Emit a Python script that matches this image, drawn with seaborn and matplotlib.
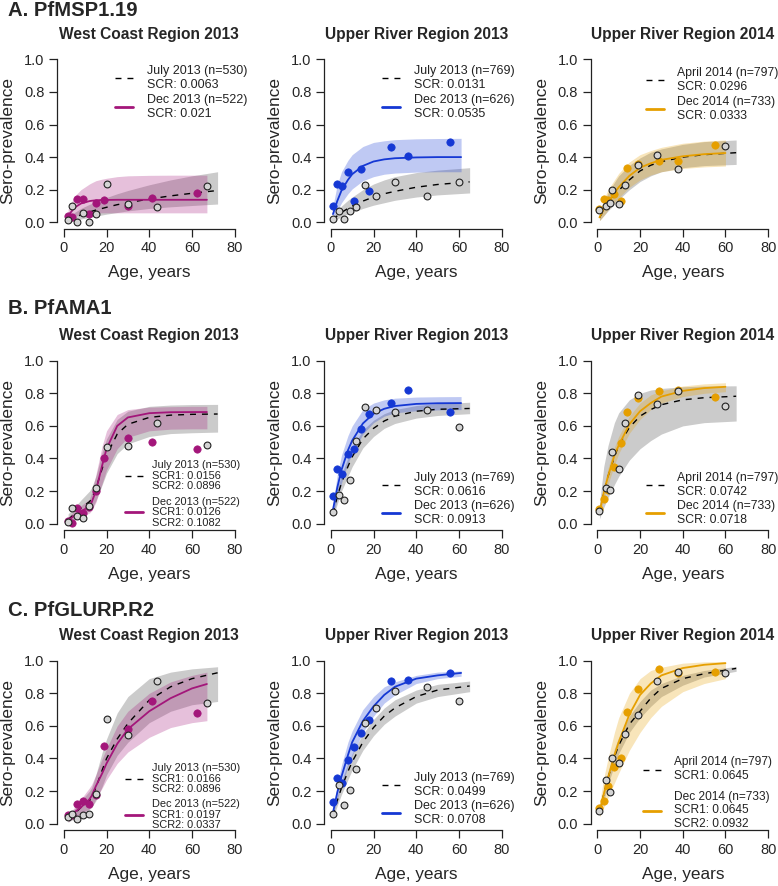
import matplotlib
matplotlib.use("Agg")
import matplotlib.pyplot as plt
from matplotlib.lines import Line2D
import seaborn as sns

# ---- ages of the observed points (one list per survey) ----
wc_jul_age = [2, 4, 6, 9, 12, 15, 20, 30, 43.5, 67]
wc_dec_age = [2, 4, 6, 9, 12, 15, 19, 30, 41.5, 62.5]
ur13_jul_age = [1, 4, 6, 9, 12, 16, 21, 30, 45, 60]
ur13_dec_age = [1, 3, 5, 8, 11, 14, 18, 28, 36, 56]
ur14_apr_age = [1, 4, 6, 7, 10, 13, 19, 28, 38, 60]
ur14_dec_age = [1, 3, 5, 8, 11, 14, 19, 29, 38, 55]

# ---- ages at which the fitted curves were read ----
wc_dec_fit_age = [2, 5, 8, 12, 13, 15, 18, 20, 25, 30, 40, 50, 60, 67]
wc_jul_fit_age = [2, 5, 8, 12, 13, 15, 18, 20, 25, 30, 40, 50, 60, 72]
ur13_dec_fit_age = [1, 3, 5, 8, 10, 15, 20, 25, 30, 40, 50, 61]
ur13_jul_fit_age = [1, 3, 5, 8, 10, 15, 20, 25, 30, 40, 50, 65]
ur14_dec_fit_age = [1, 3, 5, 8, 10, 15, 20, 25, 30, 40, 50, 60]
ur14_apr_fit_age = [1, 3, 5, 8, 10, 15, 20, 25, 30, 40, 50, 65]

# ---- A. PfMSP1.19 ----
msp_wc_jul = [0.015, 0.10, 0.0, 0.056, 0.0, 0.052, 0.237, 0.113, 0.093, 0.223]
msp_wc_dec = [0.041, 0.035, 0.144, 0.144, 0.052, 0.118, 0.134, 0.099, 0.150, 0.181]
msp_wc_jul_fit = [0.012, 0.03, 0.045, 0.063, 0.067, 0.075, 0.085, 0.092, 0.108, 0.12, 0.143, 0.162, 0.178, 0.195]
msp_wc_jul_lo = [0.0, 0.01, 0.02, 0.03, 0.033, 0.038, 0.045, 0.05, 0.06, 0.07, 0.085, 0.095, 0.103, 0.112]
msp_wc_jul_hi = [0.03, 0.06, 0.085, 0.11, 0.115, 0.128, 0.142, 0.152, 0.175, 0.195, 0.23, 0.26, 0.285, 0.31]
msp_wc_dec_fit = [0.04, 0.09, 0.115, 0.13, 0.132, 0.135, 0.137, 0.137, 0.138, 0.138, 0.138, 0.138, 0.138, 0.138]
msp_wc_dec_lo = [0.01, 0.035, 0.05, 0.056, 0.057, 0.058, 0.058, 0.058, 0.058, 0.058, 0.058, 0.058, 0.058, 0.058]
msp_wc_dec_hi = [0.08, 0.16, 0.2, 0.235, 0.242, 0.255, 0.265, 0.27, 0.28, 0.285, 0.288, 0.289, 0.289, 0.289]

msp_ur13_jul = [0.02, 0.068, 0.02, 0.072, 0.092, 0.226, 0.164, 0.25, 0.164, 0.246]
msp_ur13_dec = [0.099, 0.235, 0.22, 0.308, 0.133, 0.328, 0.19, 0.462, 0.407, 0.495]
msp_ur13_jul_fit = [0.015, 0.04, 0.06, 0.085, 0.1, 0.13, 0.155, 0.175, 0.19, 0.215, 0.232, 0.248]
msp_ur13_jul_lo = [0.005, 0.02, 0.035, 0.05, 0.06, 0.085, 0.105, 0.12, 0.135, 0.155, 0.168, 0.18]
msp_ur13_jul_hi = [0.03, 0.07, 0.1, 0.135, 0.155, 0.2, 0.235, 0.26, 0.28, 0.305, 0.32, 0.335]
msp_ur13_dec_fit = [0.05, 0.13, 0.195, 0.26, 0.295, 0.346, 0.373, 0.386, 0.393, 0.398, 0.4, 0.4]
msp_ur13_dec_lo = [0.02, 0.07, 0.12, 0.175, 0.205, 0.255, 0.28, 0.295, 0.302, 0.308, 0.31, 0.31]
msp_ur13_dec_hi = [0.1, 0.23, 0.31, 0.38, 0.415, 0.465, 0.49, 0.5, 0.507, 0.512, 0.514, 0.515]

msp_ur14_apr = [0.075, 0.099, 0.118, 0.2, 0.113, 0.227, 0.35, 0.412, 0.326, 0.47]
msp_ur14_dec = [0.082, 0.14, 0.138, 0.175, 0.13, 0.336, 0.355, 0.373, 0.373, 0.474]
msp_ur14_apr_fit = [0.028, 0.075, 0.115, 0.165, 0.195, 0.26, 0.315, 0.35, 0.372, 0.4, 0.415, 0.427]
msp_ur14_apr_lo = [0.01, 0.04, 0.07, 0.11, 0.14, 0.2, 0.25, 0.285, 0.31, 0.335, 0.348, 0.355]
msp_ur14_apr_hi = [0.05, 0.12, 0.18, 0.245, 0.285, 0.35, 0.395, 0.43, 0.45, 0.478, 0.495, 0.505]
msp_ur14_dec_fit = [0.03, 0.08, 0.125, 0.18, 0.215, 0.285, 0.335, 0.362, 0.383, 0.405, 0.418, 0.425]
msp_ur14_dec_lo = [0.01, 0.04, 0.075, 0.12, 0.15, 0.215, 0.26, 0.29, 0.31, 0.33, 0.34, 0.345]
msp_ur14_dec_hi = [0.06, 0.14, 0.2, 0.26, 0.3, 0.37, 0.415, 0.44, 0.46, 0.485, 0.498, 0.505]

# ---- B. PfAMA1 ----
ama_wc_jul = [0.01, 0.099, 0.047, 0.037, 0.11, 0.216, 0.473, 0.475, 0.617, 0.484]
ama_wc_dec = [0.016, 0.002, 0.099, 0.064, 0.103, 0.2, 0.40, 0.525, 0.504, 0.459]
ama_wc_jul_fit = [0.025, 0.06, 0.095, 0.135, 0.15, 0.215, 0.34, 0.42, 0.55, 0.61, 0.652, 0.666, 0.671, 0.673]
ama_wc_jul_lo = [0.0, 0.025, 0.05, 0.08, 0.09, 0.14, 0.24, 0.31, 0.43, 0.49, 0.535, 0.553, 0.558, 0.562]
ama_wc_jul_hi = [0.06, 0.1, 0.145, 0.2, 0.22, 0.29, 0.44, 0.52, 0.64, 0.69, 0.72, 0.728, 0.731, 0.732]
ama_wc_dec_fit = [0.02, 0.05, 0.075, 0.105, 0.13, 0.2, 0.36, 0.46, 0.6, 0.652, 0.678, 0.684, 0.685, 0.685]
ama_wc_dec_lo = [0.0, 0.02, 0.04, 0.065, 0.08, 0.13, 0.25, 0.33, 0.46, 0.53, 0.57, 0.58, 0.582, 0.582]
ama_wc_dec_hi = [0.04, 0.08, 0.11, 0.15, 0.19, 0.3, 0.48, 0.57, 0.67, 0.7, 0.715, 0.718, 0.72, 0.72]

ama_ur13_jul = [0.072, 0.179, 0.148, 0.267, 0.507, 0.713, 0.698, 0.688, 0.698, 0.595]
ama_ur13_dec = [0.172, 0.337, 0.302, 0.425, 0.46, 0.579, 0.676, 0.743, 0.819, 0.686]
ama_ur13_jul_fit = [0.06, 0.165, 0.25, 0.35, 0.41, 0.52, 0.585, 0.63, 0.66, 0.69, 0.702, 0.707]
ama_ur13_jul_lo = [0.04, 0.12, 0.2, 0.29, 0.35, 0.465, 0.535, 0.585, 0.615, 0.648, 0.664, 0.675]
ama_ur13_jul_hi = [0.085, 0.21, 0.3, 0.405, 0.465, 0.575, 0.635, 0.675, 0.7, 0.725, 0.737, 0.745]
ama_ur13_dec_fit = [0.085, 0.22, 0.33, 0.45, 0.51, 0.615, 0.675, 0.705, 0.722, 0.735, 0.739, 0.74]
ama_ur13_dec_lo = [0.05, 0.15, 0.25, 0.37, 0.43, 0.55, 0.62, 0.66, 0.68, 0.693, 0.698, 0.7]
ama_ur13_dec_hi = [0.12, 0.3, 0.42, 0.54, 0.6, 0.7, 0.74, 0.76, 0.77, 0.777, 0.779, 0.78]

ama_ur14_apr = [0.075, 0.22, 0.205, 0.44, 0.337, 0.62, 0.79, 0.733, 0.815, 0.723]
ama_ur14_dec = [0.092, 0.154, 0.209, 0.349, 0.497, 0.688, 0.774, 0.815, 0.821, 0.778]
ama_ur14_apr_fit = [0.07, 0.19, 0.29, 0.41, 0.48, 0.59, 0.66, 0.7, 0.73, 0.76, 0.773, 0.782]
ama_ur14_apr_lo = [0.03, 0.1, 0.16, 0.24, 0.29, 0.39, 0.46, 0.51, 0.55, 0.6, 0.62, 0.63]
ama_ur14_apr_hi = [0.12, 0.35, 0.48, 0.62, 0.68, 0.76, 0.8, 0.82, 0.83, 0.84, 0.845, 0.846]
ama_ur14_dec_fit = [0.07, 0.19, 0.29, 0.42, 0.48, 0.61, 0.69, 0.74, 0.78, 0.815, 0.832, 0.84]
ama_ur14_dec_lo = [0.05, 0.15, 0.24, 0.36, 0.43, 0.555, 0.64, 0.7, 0.74, 0.78, 0.8, 0.81]
ama_ur14_dec_hi = [0.09, 0.23, 0.34, 0.47, 0.535, 0.66, 0.74, 0.79, 0.815, 0.845, 0.858, 0.865]

# ---- C. PfGLURP.R2 ----
glurp_wc_jul = [0.04, 0.06, 0.031, 0.055, 0.057, 0.184, 0.641, 0.547, 0.875, 0.742]
glurp_wc_dec = [0.055, 0.055, 0.123, 0.139, 0.123, 0.174, 0.475, 0.584, 0.752, 0.682]
glurp_wc_jul_fit = [0.03, 0.06, 0.1, 0.14, 0.16, 0.22, 0.33, 0.4, 0.52, 0.615, 0.758, 0.84, 0.89, 0.926]
glurp_wc_jul_lo = [0.01, 0.03, 0.06, 0.09, 0.1, 0.14, 0.23, 0.3, 0.42, 0.5, 0.62, 0.69, 0.73, 0.75]
glurp_wc_jul_hi = [0.05, 0.09, 0.14, 0.2, 0.22, 0.3, 0.44, 0.52, 0.68, 0.78, 0.89, 0.93, 0.95, 0.963]
glurp_wc_dec_fit = [0.03, 0.07, 0.1, 0.15, 0.17, 0.23, 0.31, 0.37, 0.49, 0.58, 0.69, 0.77, 0.83, 0.857]
glurp_wc_dec_lo = [0.01, 0.04, 0.06, 0.09, 0.1, 0.15, 0.22, 0.27, 0.37, 0.44, 0.53, 0.59, 0.62, 0.632]
glurp_wc_dec_hi = [0.05, 0.1, 0.15, 0.22, 0.24, 0.3, 0.4, 0.46, 0.6, 0.69, 0.8, 0.87, 0.91, 0.93]

glurp_ur13_jul = [0.057, 0.236, 0.113, 0.205, 0.338, 0.619, 0.707, 0.816, 0.836, 0.754]
glurp_ur13_dec = [0.133, 0.283, 0.25, 0.389, 0.471, 0.559, 0.635, 0.877, 0.883, 0.922]
glurp_ur13_jul_fit = [0.049, 0.14, 0.22, 0.32, 0.38, 0.5, 0.59, 0.66, 0.71, 0.78, 0.82, 0.845]
glurp_ur13_jul_lo = [0.035, 0.11, 0.18, 0.27, 0.33, 0.45, 0.54, 0.61, 0.66, 0.74, 0.78, 0.81]
glurp_ur13_jul_hi = [0.065, 0.17, 0.26, 0.37, 0.43, 0.55, 0.64, 0.71, 0.76, 0.82, 0.855, 0.875]
glurp_ur13_dec_fit = [0.068, 0.19, 0.29, 0.42, 0.5, 0.63, 0.72, 0.79, 0.84, 0.89, 0.91, 0.925]
glurp_ur13_dec_lo = [0.05, 0.15, 0.23, 0.35, 0.42, 0.56, 0.66, 0.74, 0.79, 0.86, 0.89, 0.905]
glurp_ur13_dec_hi = [0.09, 0.24, 0.36, 0.5, 0.57, 0.7, 0.78, 0.84, 0.87, 0.91, 0.93, 0.937]

glurp_ur14_apr = [0.078, 0.266, 0.195, 0.404, 0.373, 0.549, 0.666, 0.875, 0.932, 0.926]
glurp_ur14_dec = [0.096, 0.139, 0.232, 0.348, 0.4, 0.686, 0.824, 0.949, 0.922, 0.932]
glurp_ur14_apr_fit = [0.07, 0.18, 0.28, 0.41, 0.48, 0.61, 0.69, 0.77, 0.83, 0.89, 0.92, 0.953]
glurp_ur14_apr_lo = [0.05, 0.14, 0.24, 0.36, 0.43, 0.56, 0.65, 0.72, 0.78, 0.85, 0.9, 0.935]
glurp_ur14_apr_hi = [0.09, 0.22, 0.32, 0.46, 0.53, 0.66, 0.75, 0.82, 0.86, 0.91, 0.94, 0.965]
glurp_ur14_dec_fit = [0.07, 0.18, 0.28, 0.42, 0.5, 0.67, 0.79, 0.86, 0.91, 0.955, 0.975, 0.985]
glurp_ur14_dec_lo = [0.04, 0.1, 0.16, 0.25, 0.31, 0.45, 0.56, 0.65, 0.72, 0.81, 0.86, 0.89]
glurp_ur14_dec_hi = [0.12, 0.28, 0.4, 0.56, 0.65, 0.8, 0.89, 0.94, 0.96, 0.985, 0.993, 0.995]

# ---- text ----
antigens = ["A. PfMSP1.19", "B. PfAMA1", "C. PfGLURP.R2"]
regions = ["West Coast Region 2013", "Upper River Region 2013", "Upper River Region 2014"]
legend_labels = [
    ["July 2013 (n=530)\nSCR: 0.0063", "Dec 2013 (n=522)\nSCR: 0.021"],
    ["July 2013 (n=769)\nSCR: 0.0131", "Dec 2013 (n=626)\nSCR: 0.0535"],
    ["April 2014 (n=797)\nSCR: 0.0296", "Dec 2014 (n=733)\nSCR: 0.0333"],
    ["July 2013 (n=530)\nSCR1: 0.0156\nSCR2: 0.0896", "Dec 2013 (n=522)\nSCR1: 0.0126\nSCR2: 0.1082"],
    ["July 2013 (n=769)\nSCR: 0.0616", "Dec 2013 (n=626)\nSCR: 0.0913"],
    ["April 2014 (n=797)\nSCR: 0.0742", "Dec 2014 (n=733)\nSCR: 0.0718"],
    ["July 2013 (n=530)\nSCR1: 0.0166\nSCR2: 0.0896", "Dec 2013 (n=522)\nSCR1: 0.0197\nSCR2: 0.0337"],
    ["July 2013 (n=769)\nSCR: 0.0499", "Dec 2013 (n=626)\nSCR: 0.0708"],
    ["April 2014 (n=797)\nSCR1: 0.0645", "Dec 2014 (n=733)\nSCR1: 0.0645\nSCR2: 0.0932"],
]

region_colors = ["#a3167a", "#1538d4", "#e69f00"]

panels = [
    (wc_jul_age, msp_wc_jul, wc_dec_age, msp_wc_dec, wc_jul_fit_age, msp_wc_jul_fit, msp_wc_jul_lo, msp_wc_jul_hi,
     wc_dec_fit_age, msp_wc_dec_fit, msp_wc_dec_lo, msp_wc_dec_hi),
    (ur13_jul_age, msp_ur13_jul, ur13_dec_age, msp_ur13_dec, ur13_jul_fit_age, msp_ur13_jul_fit, msp_ur13_jul_lo, msp_ur13_jul_hi,
     ur13_dec_fit_age, msp_ur13_dec_fit, msp_ur13_dec_lo, msp_ur13_dec_hi),
    (ur14_apr_age, msp_ur14_apr, ur14_dec_age, msp_ur14_dec, ur14_apr_fit_age, msp_ur14_apr_fit, msp_ur14_apr_lo, msp_ur14_apr_hi,
     ur14_dec_fit_age, msp_ur14_dec_fit, msp_ur14_dec_lo, msp_ur14_dec_hi),
    (wc_jul_age, ama_wc_jul, wc_dec_age, ama_wc_dec, wc_jul_fit_age, ama_wc_jul_fit, ama_wc_jul_lo, ama_wc_jul_hi,
     wc_dec_fit_age, ama_wc_dec_fit, ama_wc_dec_lo, ama_wc_dec_hi),
    (ur13_jul_age, ama_ur13_jul, ur13_dec_age, ama_ur13_dec, ur13_jul_fit_age, ama_ur13_jul_fit, ama_ur13_jul_lo, ama_ur13_jul_hi,
     ur13_dec_fit_age, ama_ur13_dec_fit, ama_ur13_dec_lo, ama_ur13_dec_hi),
    (ur14_apr_age, ama_ur14_apr, ur14_dec_age, ama_ur14_dec, ur14_apr_fit_age, ama_ur14_apr_fit, ama_ur14_apr_lo, ama_ur14_apr_hi,
     ur14_dec_fit_age, ama_ur14_dec_fit, ama_ur14_dec_lo, ama_ur14_dec_hi),
    (wc_jul_age, glurp_wc_jul, wc_dec_age, glurp_wc_dec, wc_jul_fit_age, glurp_wc_jul_fit, glurp_wc_jul_lo, glurp_wc_jul_hi,
     wc_dec_fit_age, glurp_wc_dec_fit, glurp_wc_dec_lo, glurp_wc_dec_hi),
    (ur13_jul_age, glurp_ur13_jul, ur13_dec_age, glurp_ur13_dec, ur13_jul_fit_age, glurp_ur13_jul_fit, glurp_ur13_jul_lo, glurp_ur13_jul_hi,
     ur13_dec_fit_age, glurp_ur13_dec_fit, glurp_ur13_dec_lo, glurp_ur13_dec_hi),
    (ur14_apr_age, glurp_ur14_apr, ur14_dec_age, glurp_ur14_dec, ur14_apr_fit_age, glurp_ur14_apr_fit, glurp_ur14_apr_lo, glurp_ur14_apr_hi,
     ur14_dec_fit_age, glurp_ur14_dec_fit, glurp_ur14_dec_lo, glurp_ur14_dec_hi),
]

# legend placement: (loc, anchor x, anchor y, fontsize, labelspacing, linespacing, handlelength, handletextpad)
legend_opts = [
    ("upper left", 0.314, 0.93, 9.0, 0.25, 1.2, 1.45, 1.1),
    ("upper left", 0.313, 0.93, 9.0, 0.25, 1.2, 1.45, 1.1),
    ("upper left", 0.302, 0.92, 8.8, 0.25, 1.2, 1.45, 1.1),
    ("lower left", 0.369, 0.015, 7.9, 0.5, 1.05, 1.62, 0.82),
    ("lower left", 0.313, 0.025, 9.0, 0.2, 1.2, 1.45, 1.1),
    ("lower left", 0.302, 0.023, 8.8, 0.2, 1.2, 1.45, 1.1),
    ("lower left", 0.369, 0.0, 7.9, 0.5, 1.05, 1.62, 0.82),
    ("lower left", 0.313, 0.025, 9.0, 0.2, 1.2, 1.45, 1.1),
    ("lower left", 0.285, 0.0, 8.6, 0.7, 1.2, 1.48, 1.1),
]

sns.set_style("ticks")
plt.rcParams["font.family"] = ["Liberation Sans", "DejaVu Sans"]

W, H = 778, 886
fig = plt.figure(figsize=(W / 100, H / 100), dpi=100)

col_left = [57, 324, 590.5]
row_top = [52.8, 354.2, 654.2]
ax_w, ax_h = 184.5, 176
dash = (0, (4.3, 4.3))

for i, p in enumerate(panels):
    r, c = divmod(i, 3)
    (b_age, b_sp, f_age, f_sp, bf_age, bf, bf_lo, bf_hi, ff_age, ff, ff_lo, ff_hi) = p
    color = region_colors[c]
    ax = fig.add_axes([col_left[c] / W, 1 - (row_top[r] + ax_h) / H, ax_w / W, ax_h / H])

    ax.fill_between(bf_age, bf_lo, bf_hi, color="#8c8c8c", alpha=0.45, linewidth=0)
    ax.fill_between(ff_age, ff_lo, ff_hi, color=color, alpha=0.27, linewidth=0)
    sns.lineplot(x=bf_age, y=bf, ax=ax, color="black", linewidth=1.0, linestyle=dash, sort=False)
    sns.lineplot(x=ff_age, y=ff, ax=ax, color=color, linewidth=1.3, sort=False)
    sns.scatterplot(x=f_age, y=f_sp, ax=ax, color=color, s=28, edgecolor=color, linewidth=0.5, zorder=4)
    sns.scatterplot(x=b_age, y=b_sp, ax=ax, color="#d4d4d4", s=24, edgecolor="#222222",
                    linewidth=0.8, zorder=5)

    ax.set_xlim(-3.2, 83.2)
    ax.set_ylim(-0.04, 1.04)
    ax.set_xticks([0, 20, 40, 60, 80])
    ax.set_yticks([0, 0.2, 0.4, 0.6, 0.8, 1.0])
    ax.set_yticklabels([f"{v:.1f}" for v in [0, 0.2, 0.4, 0.6, 0.8, 1.0]])
    ax.tick_params(length=6, width=0.9, pad=3, labelsize=10.5, direction="out", color="#222222")
    for side in ["top", "right"]:
        ax.spines[side].set_visible(False)
    ax.spines["left"].set_bounds(0, 1)
    ax.spines["bottom"].set_bounds(0, 80)
    for side in ["left", "bottom"]:
        ax.spines[side].set_linewidth(0.9)
        ax.spines[side].set_color("#222222")

    ax.set_xlabel("Age, years", fontsize=12.4, va="center")
    ax.xaxis.set_label_coords(0.5, -0.25)
    ax.set_ylabel("Sero-prevalence", fontsize=12.4, va="center")
    ax.yaxis.set_label_coords(-0.266, 0.5)
    ax.text(0.5, 1.105, regions[c], transform=ax.transAxes, ha="center", va="center",
            fontsize=11.2, fontweight="bold")

    loc, lx, ly, fs, lsp, lns, hl, htp = legend_opts[i]
    handles = [Line2D([], [], color="black", linewidth=1.0, linestyle=dash),
               Line2D([], [], color=color, linewidth=2.0)]
    leg = ax.legend(handles, legend_labels[i], loc=loc, bbox_to_anchor=(lx, ly), frameon=False,
                    fontsize=fs, borderpad=0, borderaxespad=0, labelspacing=lsp,
                    handlelength=hl, handletextpad=htp)
    for t in leg.get_texts():
        t.set_linespacing(lns)
        t.set_color("#222222")

for r, name in enumerate(antigens):
    yc = [11, 309, 610][r]
    fig.text(8 / W, 1 - yc / H, name, ha="left", va="center", fontsize=14.6, fontweight="bold")

fig.savefig("out.png", dpi=100)
